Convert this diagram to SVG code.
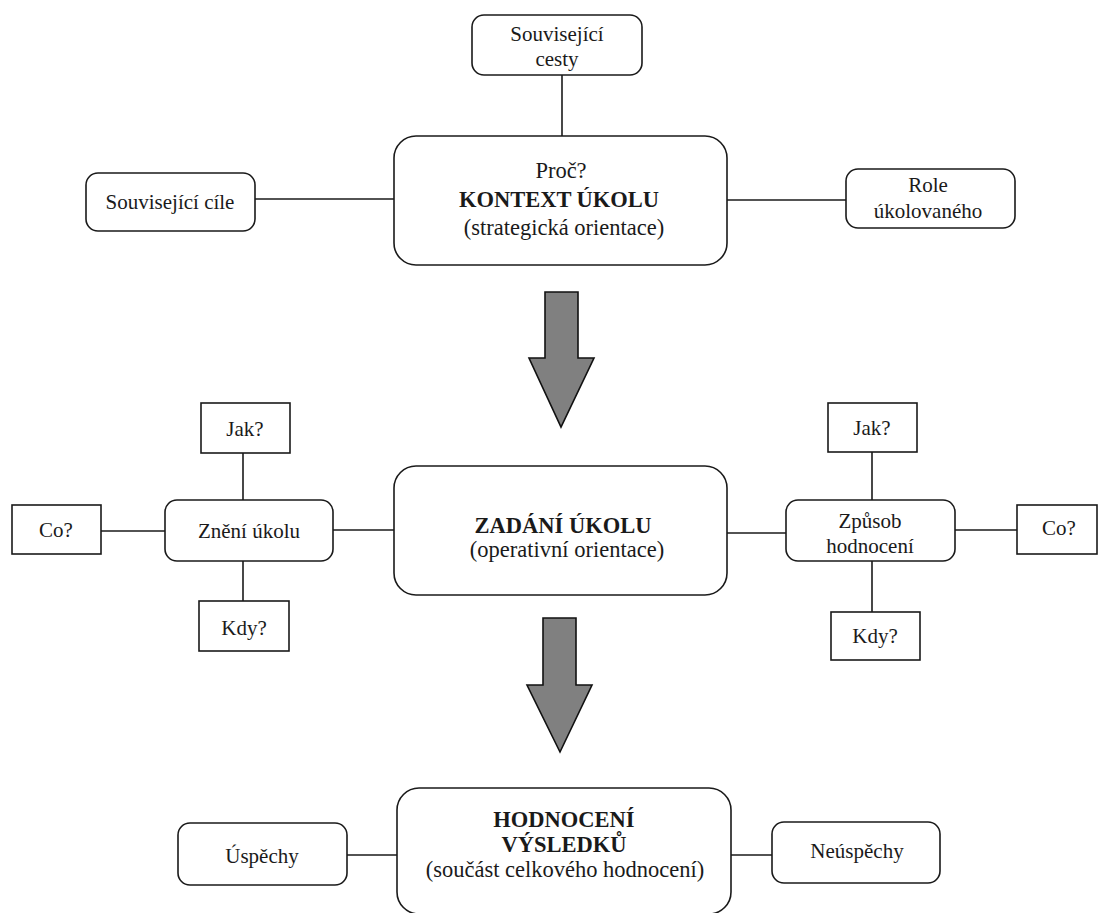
<svg xmlns="http://www.w3.org/2000/svg" width="1098" height="913" viewBox="0 0 1098 913">
<style>
.b{fill:#fff;stroke:#1a1a1a;stroke-width:1.6}
.c{stroke:#1a1a1a;stroke-width:1.6;fill:none}
.a{fill:#808080;stroke:#111;stroke-width:1.6;stroke-linejoin:miter}
text{font-family:'Liberation Serif','Times New Roman',serif;font-size:21px;fill:#1a1a1a;text-anchor:middle}
.t{font-size:22.5px}
.bold{font-weight:bold}
</style>
<rect width="1098" height="913" fill="#fff"/>
<g id="connectors">
<line class="c" x1="562" y1="75" x2="562" y2="136"/>
<line class="c" x1="255" y1="199" x2="394" y2="199"/>
<line class="c" x1="727" y1="200" x2="846" y2="200"/>
<line class="c" x1="243" y1="453" x2="243" y2="500"/>
<line class="c" x1="101" y1="531" x2="165" y2="531"/>
<line class="c" x1="333" y1="530" x2="394" y2="530"/>
<line class="c" x1="243" y1="561" x2="243" y2="601"/>
<line class="c" x1="872" y1="452" x2="872" y2="500"/>
<line class="c" x1="727" y1="533" x2="786" y2="533"/>
<line class="c" x1="955" y1="530" x2="1017" y2="530"/>
<line class="c" x1="872" y1="561" x2="872" y2="612"/>
<line class="c" x1="347" y1="855" x2="397" y2="855"/>
<line class="c" x1="731" y1="855" x2="772" y2="855"/>
<polygon class="a" points="545,292 578,292 578,358 594,358 561,427 529,358 545,358"/>
<polygon class="a" points="543,618 576,618 576,685 592,685 560,752 527,685 543,685"/>
</g>
<g id="souvisejici-cesty">
<rect class="b" x="472" y="15" width="170" height="60" rx="12"/>
<text x="557" y="41">Související</text>
<text x="557" y="66">cesty</text>
</g>
<g id="kontext">
<rect class="b" x="394" y="136" width="333" height="129" rx="22"/>
<text class="t" x="561" y="178">Proč?</text>
<text class="t bold" x="559" y="207">KONTEXT ÚKOLU</text>
<text class="t" x="564" y="235">(strategická orientace)</text>
</g>
<g id="souvisejici-cile">
<rect class="b" x="86" y="173" width="169" height="58" rx="12"/>
<text x="170" y="209">Související cíle</text>
</g>
<g id="role">
<rect class="b" x="846" y="169" width="169" height="59" rx="12"/>
<text x="928" y="192">Role</text>
<text x="928" y="218">úkolovaného</text>
</g>
<g id="zadani">
<rect class="b" x="394" y="466" width="333" height="129" rx="22"/>
<text class="t bold" x="563" y="533">ZADÁNÍ ÚKOLU</text>
<text class="t" x="567" y="557">(operativní orientace)</text>
</g>
<g id="zneni">
<rect class="b" x="165" y="500" width="168" height="61" rx="12"/>
<text x="249" y="538">Znění úkolu</text>
</g>
<g id="jak-left">
<rect class="b" x="201" y="403" width="89" height="50"/>
<text x="245" y="436">Jak?</text>
</g>
<g id="co-left">
<rect class="b" x="12" y="505" width="89" height="49"/>
<text x="56" y="537">Co?</text>
</g>
<g id="kdy-left">
<rect class="b" x="199" y="601" width="90" height="50"/>
<text x="244" y="635">Kdy?</text>
</g>
<g id="zpusob">
<rect class="b" x="786" y="500" width="169" height="61" rx="12"/>
<text x="870" y="528">Způsob</text>
<text x="870" y="553">hodnocení</text>
</g>
<g id="jak-right">
<rect class="b" x="828" y="403" width="89" height="49"/>
<text x="872" y="435">Jak?</text>
</g>
<g id="co-right">
<rect class="b" x="1017" y="505" width="80" height="49"/>
<text x="1059" y="535">Co?</text>
</g>
<g id="kdy-right">
<rect class="b" x="831" y="612" width="89" height="48"/>
<text x="875" y="643">Kdy?</text>
</g>
<g id="hodnoceni">
<rect class="b" x="397" y="788" width="334" height="126" rx="22"/>
<text class="t bold" x="564" y="827">HODNOCENÍ</text>
<text class="t bold" x="564" y="852">VÝSLEDKŮ</text>
<text class="t" x="565" y="877">(součást celkového hodnocení)</text>
</g>
<g id="uspechy">
<rect class="b" x="178" y="823" width="169" height="62" rx="12"/>
<text x="262" y="863">Úspěchy</text>
</g>
<g id="neuspechy">
<rect class="b" x="772" y="822" width="168" height="61" rx="12"/>
<text x="857" y="858">Neúspěchy</text>
</g>
</svg>
